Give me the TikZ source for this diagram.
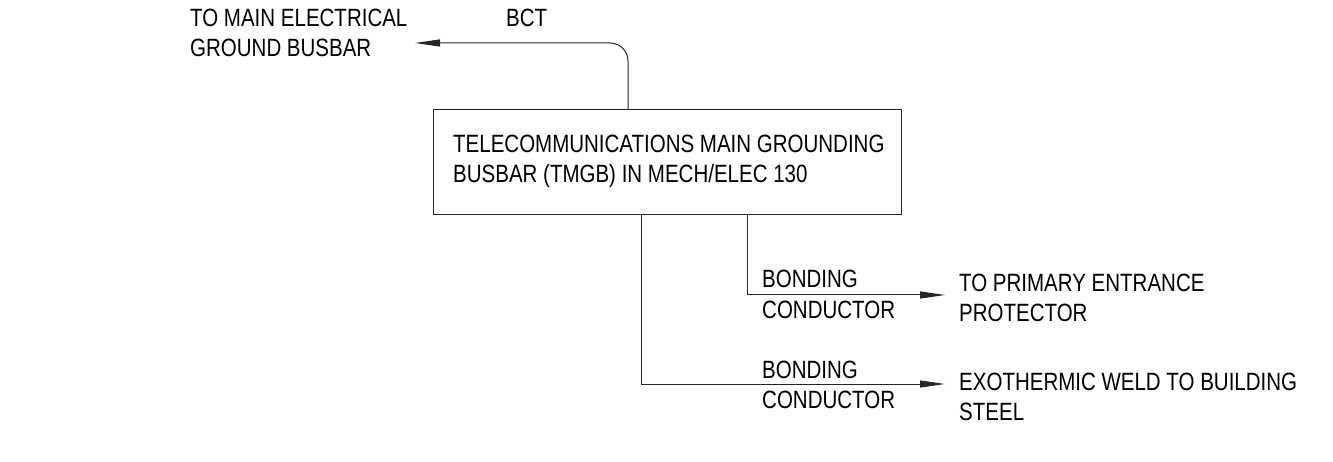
\documentclass[tikz,border=0pt]{standalone}
\usepackage{fontspec}
\setmainfont{Liberation Sans}[FakeStretch=0.82]
\usetikzlibrary{arrows.meta}
\tikzset{
  lbl/.style={font=\fontsize{25}{30}\selectfont, inner sep=0pt, align=left, anchor=base west},
  wire/.style={line width=1pt, draw=black!85},
  arr/.style={wire, -{Triangle[length=25pt,width=7pt]}},
  busbox/.style={draw=black!85, line width=1pt, minimum width=468pt, minimum height=105pt,
    text width=446pt, align=left, inner sep=0pt, font=\fontsize{25}{30}\selectfont}
}
\begin{document}
\begin{tikzpicture}[x=1pt,y=-1pt]
\useasboundingbox[fill=white] (0,0) rectangle (1333,462);
\node[lbl] (mainlbl) at (190,57) {TO MAIN ELECTRICAL\\GROUND BUSBAR};
\node[lbl] (bct) at (506,27) {BCT};
\node[busbox, anchor=north west] (tmgb) at (433,109) {};
\node[lbl] (tmgbtxt) at (453,183) {TELECOMMUNICATIONS MAIN GROUNDING\\BUSBAR (TMGB) IN MECH/ELEC 130};
\node[lbl] (bond1) at (762,318) {BONDING\\CONDUCTOR};
\node[lbl] (bond2) at (762,408) {BONDING\\CONDUCTOR};
\node[lbl] (prot) at (959,321) {TO PRIMARY ENTRANCE\\PROTECTOR};
\node[lbl] (weld) at (959,420) {EXOTHERMIC WELD TO BUILDING\\STEEL};
\coordinate (gb) at (415,43);
\coordinate (pe) at (945,295);
\coordinate (ew) at (945,384);
\draw[arr, rounded corners=18pt] ([xshift=195pt]tmgb.north west) |- (gb);
\draw[arr] ([xshift=314pt]tmgb.south west) |- (pe);
\draw[arr] ([xshift=208pt]tmgb.south west) |- (ew);
\end{tikzpicture}
\end{document}
